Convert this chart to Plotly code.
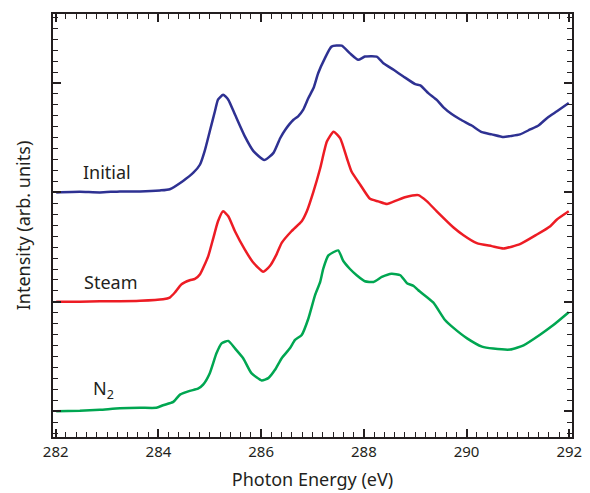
import plotly.graph_objects as go

# Photon energy (eV) and intensity (relative to each curve's baseline)
initial_x = [282.01, 282.47, 282.86, 283.25, 283.64, 284.03, 284.22, 284.48, 284.68, 284.81,
             284.90, 285.00, 285.10, 285.16, 285.26, 285.36, 285.49, 285.68, 285.85, 286.06,
             286.24, 286.37, 286.47, 286.63, 286.72, 286.82, 286.92, 287.02, 287.11, 287.24,
             287.37, 287.57, 287.73, 287.89, 288.02, 288.25, 288.38, 288.58, 288.77, 289.00,
             289.10, 289.26, 289.42, 289.55, 289.71, 289.88, 290.10, 290.30, 290.49, 290.72,
             290.85, 291.04, 291.24, 291.40, 291.57, 291.76, 291.99]
initial_y = [0.000, 0.005, 0.000, 0.009, 0.009, 0.018, 0.029, 0.105, 0.180, 0.255,
             0.377, 0.559, 0.741, 0.847, 0.893, 0.847, 0.711, 0.514, 0.377, 0.295,
             0.361, 0.495, 0.573, 0.664, 0.695, 0.756, 0.862, 0.953, 1.089, 1.225,
             1.332, 1.341, 1.270, 1.211, 1.241, 1.241, 1.180, 1.120, 1.059, 0.989,
             0.977, 0.905, 0.845, 0.777, 0.716, 0.666, 0.611, 0.550, 0.530, 0.505,
             0.514, 0.530, 0.575, 0.611, 0.680, 0.741, 0.816]

steam_x = [282.01, 282.47, 282.86, 283.25, 283.64, 284.09, 284.22, 284.32, 284.45, 284.61,
           284.71, 284.81, 284.97, 285.07, 285.16, 285.26, 285.36, 285.49, 285.68, 285.85,
           286.04, 286.17, 286.30, 286.40, 286.59, 286.79, 286.89, 287.02, 287.15, 287.28,
           287.41, 287.54, 287.67, 287.76, 287.93, 288.12, 288.28, 288.45, 288.64, 288.80,
           289.06, 289.23, 289.42, 289.74, 289.94, 290.20, 290.49, 290.72, 291.04, 291.37,
           291.63, 291.76, 291.99]
steam_y = [0.000, 0.000, 0.005, 0.005, 0.009, 0.023, 0.039, 0.085, 0.161, 0.197,
           0.209, 0.252, 0.418, 0.585, 0.736, 0.827, 0.782, 0.645, 0.479, 0.357,
           0.275, 0.327, 0.434, 0.539, 0.645, 0.736, 0.827, 1.009, 1.221, 1.464,
           1.555, 1.494, 1.312, 1.191, 1.070, 0.941, 0.918, 0.894, 0.927, 0.955,
           0.975, 0.918, 0.827, 0.682, 0.609, 0.536, 0.509, 0.488, 0.527, 0.615,
           0.691, 0.752, 0.827]

n2_x = [282.01, 282.47, 282.86, 283.25, 283.64, 283.96, 284.09, 284.29, 284.42, 284.61,
        284.77, 284.87, 285.00, 285.13, 285.23, 285.36, 285.49, 285.65, 285.81, 286.01,
        286.14, 286.27, 286.40, 286.56, 286.66, 286.79, 286.92, 287.05, 287.15, 287.21,
        287.31, 287.50, 287.60, 287.73, 287.86, 288.02, 288.19, 288.35, 288.54, 288.71,
        288.84, 288.97, 289.06, 289.35, 289.58, 289.74, 290.01, 290.30, 290.52, 290.85,
        291.11, 291.43, 291.69, 291.99]
n2_y = [0.000, 0.005, 0.014, 0.027, 0.032, 0.032, 0.055, 0.086, 0.152, 0.186,
        0.206, 0.243, 0.348, 0.530, 0.621, 0.643, 0.575, 0.485, 0.348, 0.282,
        0.303, 0.379, 0.485, 0.575, 0.652, 0.697, 0.848, 1.061, 1.182, 1.303,
        1.424, 1.470, 1.373, 1.300, 1.243, 1.188, 1.182, 1.227, 1.257, 1.243,
        1.170, 1.145, 1.106, 0.995, 0.834, 0.764, 0.666, 0.591, 0.573, 0.564,
        0.603, 0.700, 0.788, 0.905]

series_names = ["Initial", "Steam", "N<sub>2</sub>"]
series_offsets = [2, 1, 0]
series_colors = ["#2e3192", "#ed1c24", "#00a651"]
label_x = [282.50, 282.52, 282.68]
label_dy = [0.187, 0.18, 0.20]

x_tick_vals = [282, 284, 286, 288, 290, 292]

FONT = "Noto Sans"
INK = "#231f20"

fig = go.Figure()
data = [(initial_x, initial_y), (steam_x, steam_y), (n2_x, n2_y)]
for (xs, ys), off, col in zip(data, series_offsets, series_colors):
    fig.add_trace(go.Scatter(x=xs, y=[v + off for v in ys], mode="lines",
                             line=dict(color=col, width=2.5, shape="spline", smoothing=0.5),
                             showlegend=False))

for name, lx, off, dy in zip(series_names, label_x, series_offsets, label_dy):
    fig.add_annotation(x=lx, y=off + dy, text=name, showarrow=False,
                       xanchor="left", yanchor="middle",
                       font=dict(family=FONT, size=18, color=INK))

fig.update_xaxes(range=[281.947, 292.053], tickvals=x_tick_vals,
                 ticktext=[str(v) for v in x_tick_vals],
                 ticks="inside", ticklen=8, tickwidth=1.5, tickcolor=INK,
                 minor=dict(dtick=0.2, tick0=282, ticks="inside", ticklen=5,
                            tickwidth=1.2, tickcolor=INK),
                 showline=True, linewidth=1.5, linecolor=INK, mirror="allticks",
                 showgrid=False, zeroline=False,
                 tickfont=dict(family=FONT, size=15, color=INK),
                 title=dict(text="Photon Energy (eV)", standoff=14,
                            font=dict(family=FONT, size=18, color=INK)))
fig.update_yaxes(range=[-0.235, 3.63], tick0=0, dtick=1,
                 ticks="inside", ticklen=8, tickwidth=1.5, tickcolor=INK,
                 minor=dict(dtick=0.1, tick0=0, ticks="inside", ticklen=5,
                            tickwidth=1.2, tickcolor=INK),
                 showticklabels=False,
                 showline=True, linewidth=1.5, linecolor=INK, mirror="allticks",
                 showgrid=False, zeroline=False,
                 title=dict(text="Intensity (arb. units)", standoff=16,
                            font=dict(family=FONT, size=18, color=INK)))

fig.update_layout(width=590, height=493,
                  margin=dict(l=53, r=18, t=14, b=56, autoexpand=False),
                  paper_bgcolor="white", plot_bgcolor="white")

fig.write_html("out.html", config={"displayModeBar": False},
               post_script="document.body.style.margin='0';document.body.style.padding='0';")
